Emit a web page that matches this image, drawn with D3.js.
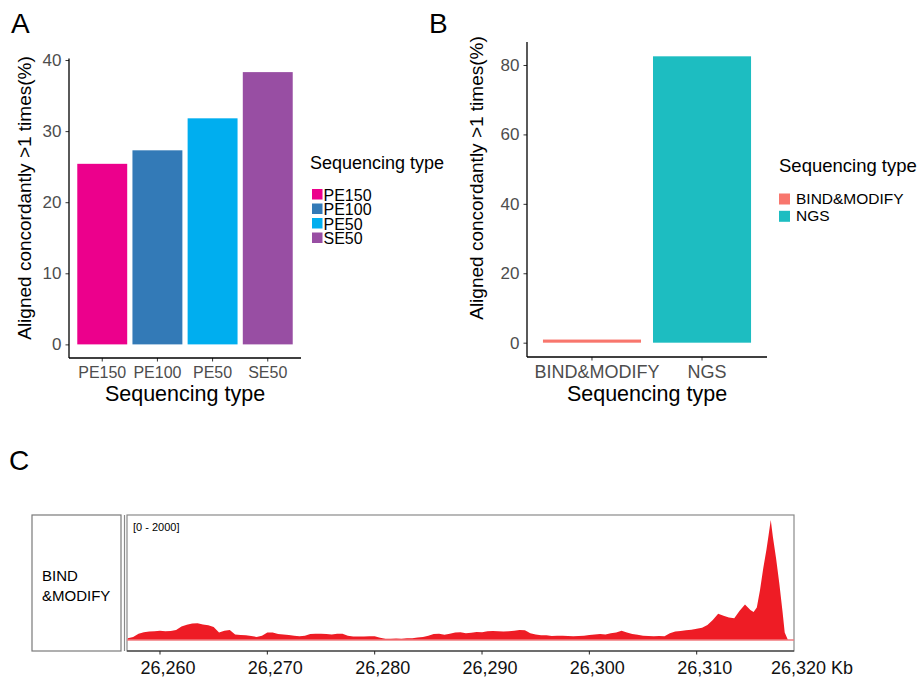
<!DOCTYPE html>
<html>
<head>
<meta charset="utf-8">
<script src="https://cdn.jsdelivr.net/npm/d3@7/dist/d3.min.js"></script>
<style>
html,body{margin:0;padding:0;background:#fff;}
svg{display:block;font-family:"Liberation Sans",Arial,Helvetica,sans-serif;}
</style>
</head>
<body>
<svg id="chart" width="921" height="678"></svg>
<script>
// ---------- data ----------
const catsA = ["PE150", "PE100", "PE50", "SE50"];
const valsA = [25.4, 27.3, 31.8, 38.3];
const colorsA = ["#ec008c", "#337ab7", "#00aeef", "#984ea3"];
const ticksA = [0, 10, 20, 30, 40];

const catsB = ["BIND&MODIFY", "NGS"];
const valsB = [0.9, 82.5];
const colorsB = ["#f8766d", "#1dbdc1"];
const ticksB = [0, 20, 40, 60, 80];

const axisTitleX = "Sequencing type";
const axisTitleY = "Aligned concordantly >1 times(%)";
const legendTitle = "Sequencing type";

// coverage track (kb position, read depth)
const covPos = [26257.0,26257.5,26258.0,26258.5,26259.0,26259.5,26260.0,26260.5,26261.0,26261.5,
  26262.0,26262.5,26263.0,26263.5,26264.0,26264.5,26265.0,26265.5,26266.0,26266.5,
  26267.0,26267.5,26268.0,26268.5,26269.0,26269.5,26270.0,26270.5,26271.0,26271.5,
  26272.0,26272.5,26273.0,26273.5,26274.0,26274.5,26275.0,26275.5,26276.0,26276.5,
  26277.0,26277.5,26278.0,26278.5,26279.0,26279.5,26280.0,26280.5,26281.0,26281.5,
  26282.0,26282.5,26283.0,26283.5,26284.0,26284.5,26285.0,26285.5,26286.0,26286.5,
  26287.0,26287.5,26288.0,26288.5,26289.0,26289.5,26290.0,26290.5,26291.0,26291.5,
  26292.0,26292.5,26293.0,26293.5,26294.0,26294.5,26295.0,26295.5,26296.0,26296.5,
  26297.0,26297.5,26298.0,26298.5,26299.0,26299.5,26300.0,26300.5,26301.0,26301.5,
  26302.0,26302.5,26303.0,26303.5,26304.0,26304.5,26305.0,26305.5,26306.0,26306.5,
  26307.0,26307.5,26308.0,26308.5,26309.0,26309.5,26310.0,26310.5,26311.0,26311.5,
  26312.0,26312.5,26313.0,26313.5,26314.0,26314.5,26315.0,26315.3,26315.6,26315.9,
  26316.2,26316.5,26316.7,26316.9,26317.1,26317.4,26317.7,26318.0,26318.2,26318.5,26319.0];
const covVal = [30,50,100,125,135,140,150,140,145,160,
  215,245,265,270,250,235,210,120,150,160,
  90,80,75,65,50,70,120,120,95,90,
  80,70,60,70,95,100,100,95,90,100,
  100,70,55,55,55,60,60,35,20,20,
  25,20,30,30,40,50,70,95,100,85,
  100,120,125,110,115,130,125,140,145,140,
  135,140,150,160,155,110,90,75,75,65,
  70,70,65,60,65,70,80,90,95,90,
  110,120,150,120,95,85,70,65,60,65,
  60,110,135,145,155,165,180,195,240,320,
  420,390,360,350,470,570,480,450,520,800,
  1150,1450,1680,1920,1650,1300,900,450,120,0,0];
const ticksC = [26260, 26270, 26280, 26290, 26300, 26310, 26320];
const trackName = ["BIND", "&MODIFY"];
const trackRange = "[0 - 2000]";

// ---------- drawing ----------
const svg = d3.select("#chart");
const FONT_GREY = "#4d4d4d";

function panelLetter(txt, x, y) {
  svg.append("text").attr("x", x).attr("y", y).attr("font-size", 28)
    .attr("fill", "#000").text(txt);
}

function barPanel(o) {
  const g = svg.append("g");
  const maxV = d3.max(o.vals);
  const y = d3.scaleLinear().domain([-0.05 * maxV, 1.05 * maxV]).range([o.bottom, o.top]);
  const x = d3.scaleBand().domain(o.cats).range([o.left, o.right])
    .paddingInner(o.pin).paddingOuter(o.pout);

  // bars
  g.selectAll("rect.bar").data(o.cats).join("rect").attr("class", "bar")
    .attr("x", d => x(d))
    .attr("width", x.bandwidth())
    .attr("y", (d, i) => y(o.vals[i]))
    .attr("height", (d, i) => y(0) - y(o.vals[i]))
    .attr("fill", (d, i) => o.colors[i]);

  // y axis
  const ya = d3.axisLeft(y).tickValues(o.ticks).tickSize(3.5).tickPadding(4);
  const yg = g.append("g").attr("transform", `translate(${o.left},0)`).call(ya);
  yg.select(".domain").remove();
  yg.selectAll(".tick line").attr("stroke", "#333");
  yg.selectAll(".tick text").attr("font-size", 17).attr("fill", FONT_GREY)
    .attr("font-family", "Liberation Sans, Arial, sans-serif");
  g.append("line").attr("x1", o.left).attr("x2", o.left)
    .attr("y1", o.top).attr("y2", o.bottom).attr("stroke", "#000").attr("stroke-width", 1.3);

  // x axis
  const xa = d3.axisBottom(x).tickSize(3.5).tickPadding(5);
  const xg = g.append("g").attr("transform", `translate(0,${o.bottom})`).call(xa);
  xg.select(".domain").remove();
  xg.selectAll(".tick line").attr("stroke", "#333");
  xg.selectAll(".tick text").attr("font-size", o.xTickSize).attr("fill", FONT_GREY)
    .attr("dx", o.xTickDx)
    .attr("font-family", "Liberation Sans, Arial, sans-serif");
  g.append("line").attr("x1", o.left).attr("x2", o.right)
    .attr("y1", o.bottom).attr("y2", o.bottom).attr("stroke", "#000").attr("stroke-width", 1.3);

  // titles
  g.append("text").attr("x", (o.left + o.right) / 2).attr("y", o.xTitleY)
    .attr("text-anchor", "middle").attr("font-size", 21.5).attr("fill", "#000").text(axisTitleX);
  g.append("text").attr("transform", `translate(${o.yTitleX},${o.yTitleCY}) rotate(-90)`)
    .attr("text-anchor", "middle").attr("font-size", 19).attr("fill", "#000").text(axisTitleY);

  // legend
  const lg = g.append("g").attr("transform", `translate(${o.legX},${o.legY})`);
  lg.append("text").attr("x", 0).attr("y", 0).attr("font-size", o.legTitleSize).attr("fill", "#000").text(legendTitle);
  o.cats.forEach((c, i) => {
    lg.append("rect").attr("x", o.keyDx).attr("y", o.keyY0 + i * o.keyStep)
      .attr("width", o.keySize).attr("height", o.keySize).attr("fill", o.colors[i]);
    lg.append("text").attr("x", o.keyDx + o.keySize + o.labGap).attr("y", o.keyY0 + i * o.keyStep + o.keySize + o.labBase)
      .attr("font-size", o.legLabSize).attr("fill", "#000").text(c);
  });
}

panelLetter("A", 11, 33);
panelLetter("B", 429, 33);
panelLetter("C", 9, 470);

barPanel({
  cats: catsA, vals: valsA, colors: colorsA, ticks: ticksA,
  left: 69, right: 301, top: 58.5, bottom: 358, pin: 0.095, pout: 0.15,
  xTickSize: 16, xTickDx: 0, xTitleY: 401, yTitleX: 31, yTitleCY: 198,
  legX: 310, legY: 169, legTitleSize: 18, keyDx: 2, keyY0: 20, keyStep: 14.5, keySize: 10.5,
  labGap: 1, labBase: 1, legLabSize: 16
});

barPanel({
  cats: catsB, vals: valsB, colors: colorsB, ticks: ticksB,
  left: 527, right: 767, top: 42, bottom: 357, pin: 0.109, pout: 0.145,
  xTickSize: 18, xTickDx: 5, xTitleY: 401, yTitleX: 483, yTitleCY: 178,
  legX: 779, legY: 172, legTitleSize: 18.5, keyDx: 0, keyY0: 21.5, keyStep: 17.3, keySize: 11,
  labGap: 6, labBase: -0.5, legLabSize: 15.5
});

// ---------- panel C : coverage track ----------
const C = { left: 127, right: 794, top: 515, bottom: 651, base: 640 };
const xc = d3.scaleLinear().domain([26256.926, 26319.065]).range([C.left, C.right]);
const yc = d3.scaleLinear().domain([0, 2000]).range([C.base, C.top]);

// name box
svg.append("rect").attr("x", 32).attr("y", C.top).attr("width", 121 - 32).attr("height", C.bottom - C.top)
  .attr("fill", "none").attr("stroke", "#7a7a7a").attr("stroke-width", 1.2);
trackName.forEach((t, i) => {
  svg.append("text").attr("x", 42).attr("y", 581 + i * 20).attr("font-size", 15).attr("fill", "#000").text(t);
});

// data box
svg.append("rect").attr("x", C.left).attr("y", C.top).attr("width", C.right - C.left).attr("height", C.bottom - C.top)
  .attr("fill", "none").attr("stroke", "#8a8a8a").attr("stroke-width", 1.2);
svg.append("line").attr("x1", C.left - 2.5).attr("x2", C.left - 2.5).attr("y1", C.top).attr("y2", C.bottom)
  .attr("stroke", "#8a8a8a").attr("stroke-width", 1.2);

const covData = covPos.map((p, i) => ({ p, v: covVal[i] }));
const area = d3.area().x(d => xc(d.p)).y0(yc(0)).y1(d => yc(d.v)).curve(d3.curveLinear);
svg.append("path").datum(covData).attr("d", area).attr("fill", "#ee1c25");
svg.append("line").attr("x1", C.left).attr("x2", C.right).attr("y1", yc(0)).attr("y2", yc(0))
  .attr("stroke", "#f07a7e").attr("stroke-width", 1.5);

svg.append("text").attr("x", 133).attr("y", 531).attr("font-size", 11).attr("fill", "#000").text(trackRange);

// genomic axis
svg.append("line").attr("x1", C.left).attr("x2", C.right).attr("y1", C.bottom).attr("y2", C.bottom)
  .attr("stroke", "#222").attr("stroke-width", 1.2);
const fmt = d3.format(",");
const inTicks = ticksC.filter(t => xc(t) <= C.right);
svg.selectAll("line.ctick").data(inTicks).join("line").attr("class", "ctick")
  .attr("x1", d => xc(d)).attr("x2", d => xc(d)).attr("y1", C.bottom).attr("y2", C.bottom + 3.5)
  .attr("stroke", "#222").attr("stroke-width", 1);
svg.selectAll("text.clab").data(ticksC).join("text").attr("class", "clab")
  .attr("x", d => xc(d) + 8).attr("y", 674).attr("text-anchor", "middle")
  .attr("font-size", 18).attr("fill", "#111")
  .text((d, i) => fmt(d) + (i === ticksC.length - 1 ? " Kb" : ""));
</script>
</body>
</html>
